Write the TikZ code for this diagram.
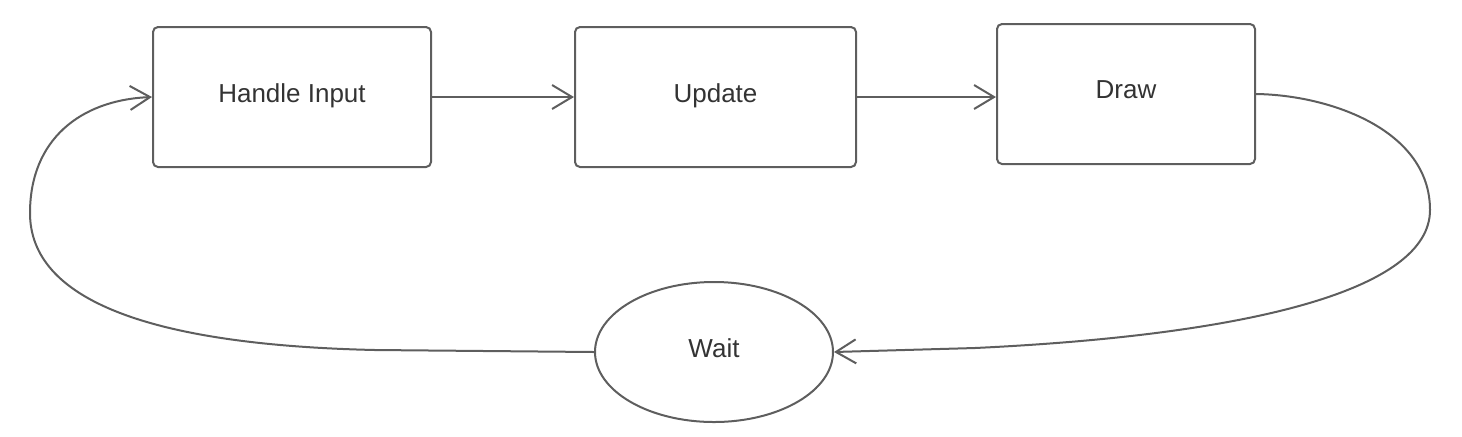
\documentclass[tikz,border=0pt]{standalone}
\usepackage{fontspec}
\setmainfont{Liberation Sans}
\definecolor{lineclr}{HTML}{5E5E5E}
\definecolor{textclr}{HTML}{333333}
\usepackage{tikz}
\usetikzlibrary{shapes.geometric, arrows.meta, positioning}

\begin{document}
\begin{tikzpicture}[
    x=0.5pt, y=-0.5pt,
    stage/.style={rectangle, draw=lineclr, line width=1pt, rounded corners=2.5pt,
        minimum height=70pt, text depth=4pt, text=textclr,
        font=\fontsize{13}{15}\selectfont},
    pause/.style={ellipse, draw=lineclr, line width=1pt, inner sep=0pt,
        minimum width=119pt, minimum height=70pt, text depth=4pt, text=textclr,
        font=\fontsize{13}{15}\selectfont},
    arr/.style={-{Straight Barb[length=10pt, width=12pt]}, line width=1pt, lineclr},
    node distance=71pt
]
\useasboundingbox (0,0) rectangle (1462,436);

\node[stage, minimum width=139pt] (input) at (292,97) {Handle Input};
\node[stage, minimum width=140.5pt, right=of input] (update) {Update};
\node[stage, minimum width=129pt, right=69.5pt of update, yshift=1.5pt] (render) {Draw};
\node[pause] (wait) at (714,352) {Wait};

\draw[arr] (input) -- (update);
\draw[arr] (update.east) -- (update.east -| render.west);
\draw[arr] (render.east) .. controls (1330,95) and (1430,130) .. (1430,210)
    .. controls (1430,290) and (1250,335) .. (975,348) -- (wait.east);
\draw[arr] (wait.west) -- (375,350) .. controls (150,345) and (30,300) .. (30,213)
    .. controls (30,140) and (80,100) .. (input.west);
\end{tikzpicture}
\end{document}
